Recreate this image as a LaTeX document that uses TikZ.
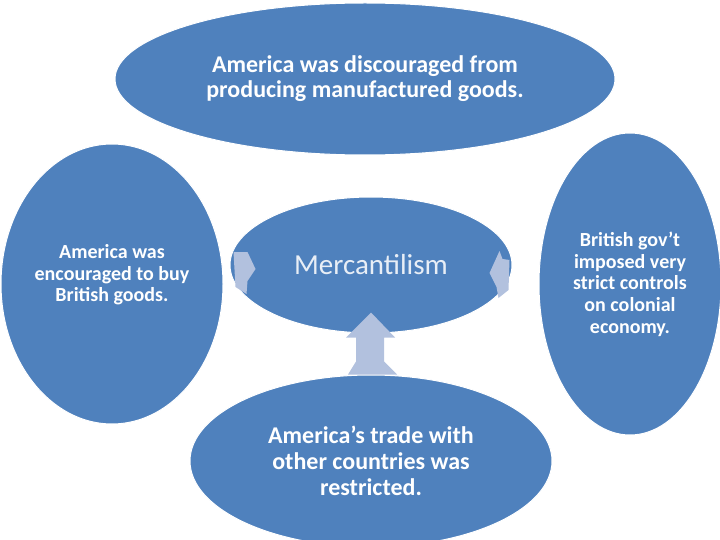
\documentclass[tikz,border=0pt]{standalone}
\usepackage{fontspec}
\setmainfont{Carlito}
\usetikzlibrary{shapes.geometric,positioning}
\definecolor{blobblue}{RGB}{79,129,189}
\definecolor{arrowblue}{RGB}{178,193,222}
\definecolor{mercwhite}{RGB}{232,238,246}
\tikzstyle{blob}=[ellipse, draw=white, line width=1pt, fill=blobblue, inner sep=0pt, text=white, align=center, font=\bfseries]
\tikzstyle{blocka}=[fill=arrowblue, draw=none]

\begin{document}
\begin{tikzpicture}[x=1pt,y=-1pt]
\useasboundingbox (0,0) rectangle (720,540);
\begin{scope}
\clip (0,0) rectangle (720,540);

\node[blob, minimum width=500pt, minimum height=152pt, font=\bfseries\fontsize{24}{25}\selectfont] (disc) at (365,79) {America was discouraged from\\producing manufactured goods.};

\node[blob, minimum width=222pt, minimum height=280pt] (buy) at (112,284) {};
\node[align=center, text=white, font=\bfseries\fontsize{20}{21.5}\selectfont] (buytxt) at ([yshift=9pt]buy.center) {America was\\encouraged to buy\\British goods.};

\node[blob, minimum width=182pt, minimum height=302pt, font=\bfseries\fontsize{20}{21.7}\selectfont] (ctrl) at (630,284) {British gov’t\\imposed very\\strict controls\\on colonial\\economy.};

\node[blob, minimum width=362pt, minimum height=172pt, font=\bfseries\fontsize{24}{26}\selectfont] (trade) at (371,461) {America’s trade with\\other countries was\\restricted.};

\node[blob, minimum width=282pt, minimum height=136pt, text=mercwhite, font=\fontsize{29}{30}\selectfont] (merc) at (371,265) {Mercantilism};
\end{scope}

% block arrows into the centre
\fill[blocka] ([xshift=4pt,yshift=13pt]merc.west) -- ++(14,0) -- ++(8,17) -- ++(-8,12) -- ++(-1,13) -- ++(-11,-7) -- cycle;
\fill[blocka] ([xshift=-23pt,yshift=-8pt]merc.east) -- ++(10,-22) -- ++(3,8) -- ++(7,1) -- ++(-1,30) -- ++(-10,8) -- ++(-2,-11) -- cycle;
\fill[blocka] (merc.south) ++(0,-21) -- ++(24,25) -- ++(-11,0) -- ++(0,24) -- ++(13,13) -- ++(-49,0) -- ++(8,-13) -- ++(0,-24) -- ++(-10,0) -- cycle;
\end{tikzpicture}
\end{document}
